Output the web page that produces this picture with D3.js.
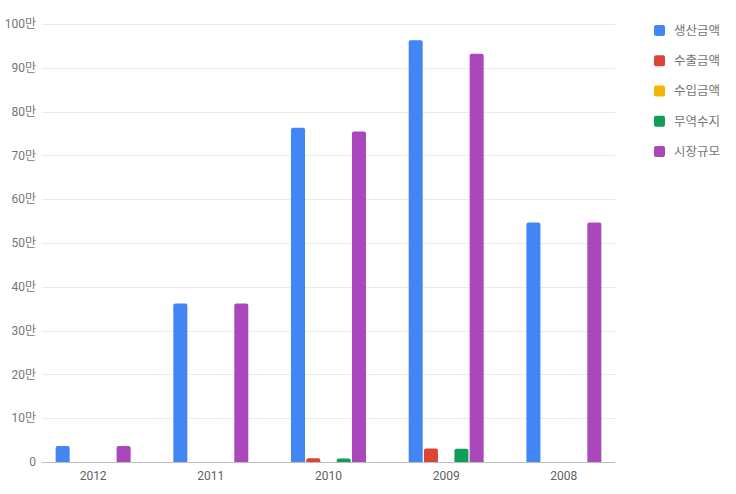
<!DOCTYPE html>
<html><head><meta charset="utf-8">
<script src="https://cdn.jsdelivr.net/npm/d3@7"></script>
<style>body{margin:0;background:#fff;} svg{display:block;font-family:Roboto,"Noto Sans CJK KR",sans-serif;}</style>
</head><body>
<svg id="c" width="736" height="494"></svg>
<script>
const categories = ["2012", "2011", "2010", "2009", "2008"];
const seriesNames = ["생산금액", "수출금액", "수입금액", "무역수지", "시장규모"];
const production = [36500, 362000, 763000, 963000, 547000];
const exportAmt = [0, 0, 8500, 31000, 0];
const importAmt = [0, 0, 0, 0, 0];
const tradeBalance = [0, 0, 8000, 30500, 0];
const marketSize = [36500, 362000, 754500, 932000, 547000];
const colors = ["#4285F4", "#DB4437", "#F4B400", "#0F9D58", "#AB47BC"];
const yTicks = [0, 100000, 200000, 300000, 400000, 500000, 600000, 700000, 800000, 900000, 1000000];
const yTickLabels = ["0", "10만", "20만", "30만", "40만", "50만", "60만", "70만", "80만", "90만", "100만"];

const series = [production, exportAmt, importAmt, tradeBalance, marketSize];
const svg = d3.select("#c");
const plotL = 42, plotR = 615, plotT = 24, plotB = 462;

const x0 = d3.scaleBand().domain(categories).range([plotL, plotR]).paddingInner(0.363).paddingOuter(0.116);
const x1 = d3.scaleBand().domain(seriesNames).range([0, x0.bandwidth()]).paddingInner(0.08);
const y = d3.scaleLinear().domain([0, 1000000]).range([plotB, plotT]);

// gridlines
const grid = svg.append("g");
grid.selectAll("line").data(yTicks.slice(1)).join("line")
  .attr("x1", plotL).attr("x2", plotR)
  .attr("y1", d => Math.round(y(d)) + 0.5).attr("y2", d => Math.round(y(d)) + 0.5)
  .attr("stroke", "#ebebeb").attr("stroke-width", 1);

// y labels
svg.append("g").selectAll("text").data(yTicks).join("text")
  .attr("x", 36).attr("y", d => y(d)).attr("dy", "0.35em")
  .attr("text-anchor", "end").attr("font-size", 12).attr("fill", "#757575")
  .text((d, i) => yTickLabels[i]);

// bars
function barPath(x, w, y0, y1, r) {
  const h = y0 - y1;
  if (h <= 0) return "";
  r = Math.min(r, h, w / 2);
  return `M${x},${y0}V${y1 + r}Q${x},${y1} ${x + r},${y1}H${x + w - r}Q${x + w},${y1} ${x + w},${y1 + r}V${y0}Z`;
}
const groups = svg.append("g").selectAll("g").data(categories).join("g")
  .attr("transform", d => `translate(${x0(d)},0)`);
groups.selectAll("path").data((c, ci) => seriesNames.map((s, si) => ({s, si, v: series[si][ci]})))
  .join("path")
  .attr("d", d => barPath(x1(d.s), x1.bandwidth(), y(0), y(d.v), 2))
  .attr("fill", d => colors[d.si]);

// x axis line
svg.append("line").attr("x1", plotL).attr("x2", plotR)
  .attr("y1", plotB + 0.5).attr("y2", plotB + 0.5)
  .attr("stroke", "#bdbdbd").attr("stroke-width", 1);

// x labels
svg.append("g").selectAll("text").data(categories).join("text")
  .attr("x", d => x0(d) + x0.bandwidth() / 2).attr("y", 480)
  .attr("text-anchor", "middle").attr("font-size", 12).attr("fill", "#616161")
  .text(d => d);

// legend
const legend = svg.append("g").selectAll("g").data(seriesNames).join("g")
  .attr("transform", (d, i) => `translate(654,${30.5 + i * 30.25})`);
legend.append("rect").attr("x", 0).attr("y", -5.5).attr("width", 11).attr("height", 11)
  .attr("rx", 2).attr("fill", (d, i) => colors[i]);
legend.append("text").attr("x", 20).attr("dy", "0.35em").attr("font-size", 12.5)
  .attr("fill", "#757575").text(d => d);
</script>
</body></html>
